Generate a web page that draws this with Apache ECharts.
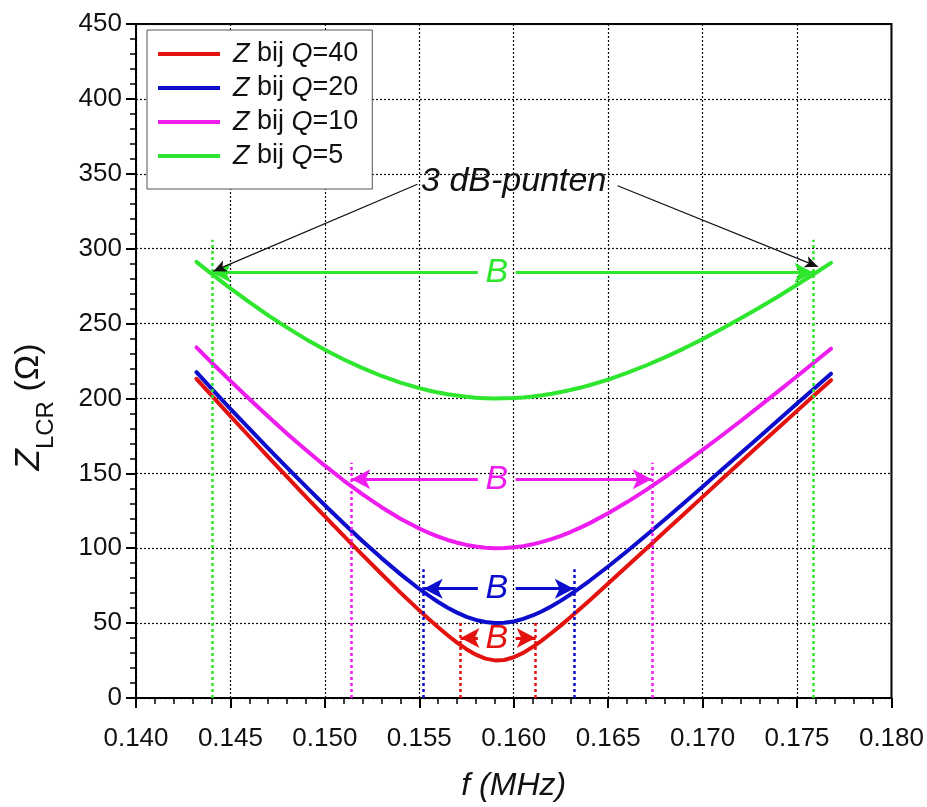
<!DOCTYPE html>
<html>
<head>
<meta charset="utf-8">
<script src="https://cdn.jsdelivr.net/npm/echarts@6/dist/echarts.min.js"></script>
<style>
  html, body { margin: 0; padding: 0; background: #fff; }
  #chart { width: 927px; height: 807px; }
</style>
</head>
<body>
<div id="chart"></div>
<script>
// frequency in MHz
const freq = [0.1432, 0.144, 0.145, 0.146, 0.147, 0.148, 0.149, 0.150, 0.151, 0.152, 0.153, 0.154, 0.155,
  0.1555, 0.156, 0.1565, 0.157, 0.1575, 0.158, 0.1585, 0.159, 0.1595, 0.160, 0.1605, 0.161, 0.1615,
  0.162, 0.1625, 0.163, 0.1635, 0.164, 0.165, 0.166, 0.167, 0.168, 0.169, 0.170, 0.171, 0.172, 0.173,
  0.174, 0.175, 0.176, 0.1768]

// Z (ohm) per curve
const zQ40 = [213.1, 202.0, 188.2, 174.6, 161.0, 147.6, 134.3, 121.2, 108.2, 95.4, 82.8, 70.4, 58.5,
  52.8, 47.2, 41.9, 37.0, 32.6, 28.9, 26.3, 25.1, 25.4, 27.2, 30.1, 34.0, 38.5,
  43.4, 48.5, 53.9, 59.4, 65.0, 76.4, 87.9, 99.5, 111.1, 122.7, 134.3, 145.9, 157.4, 168.9,
  180.3, 191.7, 203.1, 212.2]
const zQ20 = [217.5, 206.6, 193.1, 179.9, 166.7, 153.8, 141.1, 128.7, 116.5, 104.7, 93.4, 82.7, 72.8,
  68.3, 64.1, 60.3, 57.0, 54.2, 52.1, 50.7, 50.0, 50.2, 51.1, 52.8, 55.1, 57.9,
  61.3, 65.0, 69.1, 73.5, 78.1, 87.8, 98.0, 108.5, 119.2, 130.1, 141.1, 152.2, 163.2, 174.3,
  185.5, 196.6, 207.7, 216.5]
const zQ10 = [234.1, 224.0, 211.7, 199.6, 187.9, 176.5, 165.6, 155.1, 145.2, 135.9, 127.4, 119.7, 113.1,
  110.3, 107.7, 105.5, 103.7, 102.2, 101.1, 100.3, 100.0, 100.1, 100.6, 101.4, 102.6, 104.2,
  106.1, 108.3, 110.8, 113.6, 116.6, 123.3, 130.8, 138.8, 147.4, 156.3, 165.6, 175.1, 184.8, 194.7,
  204.7, 214.8, 225.0, 233.2]
const zQ5 = [291.2, 283.2, 273.5, 264.3, 255.5, 247.3, 239.6, 232.5, 226.0, 220.2, 215.0, 210.6, 206.9,
  205.3, 204.0, 202.8, 201.9, 201.1, 200.5, 200.2, 200.0, 200.1, 200.3, 200.7, 201.3, 202.1,
  203.1, 204.3, 205.6, 207.1, 208.8, 212.6, 217.0, 222.0, 227.4, 233.3, 239.6, 246.3, 253.3, 260.6,
  268.1, 275.9, 283.9, 290.5]

const seriesNames = ['Z bij Q=40', 'Z bij Q=20', 'Z bij Q=10', 'Z bij Q=5']
const qValues = ['40', '20', '10', '5']
const colors = ['#e3120f', '#0c0ccc', '#ee1cee', '#2ee62e']

// 3 dB points per curve (same order as above)
const bandLow = [0.15718, 0.15523, 0.15140, 0.14403]
const bandHigh = [0.16116, 0.16318, 0.16731, 0.17587]
const guideTop = [51, 86, 157, 306]
const arrowLevel = [40, 73, 146, 284]
const gapFrom = 0.1581
const gapTo = 0.1601
const bLabelX = 0.1591

// "3 dB-punten" annotation
const noteText = '3 dB-punten'
const notePos = [0.1600, 345]
const noteArrows = [
  [[0.1549, 343], [0.1441, 285]],
  [[0.1655, 342], [0.1761, 288]]
]

const xTicks = { min: 0.14, max: 0.18, step: 0.005 }
const yTicks = { min: 0, max: 450, step: 50 }

const FONT = '"Liberation Sans", Arial, sans-serif'

const toPairs = (ys) => freq.map((f, i) => [f, ys[i]])

const solid = (c, w) => ({ color: c, width: w, type: 'solid' })

const bandMarkLines = (k) => {
  const c = colors[k]
  const dot = { color: c, width: 2.5, type: [3, 3] }
  const arrowEnd = { symbol: 'arrow', symbolSize: [15, 19] }
  return [
    [{ coord: [bandLow[k], 0], lineStyle: dot }, { coord: [bandLow[k], guideTop[k]], lineStyle: dot }],
    [{ coord: [bandHigh[k], 0], lineStyle: dot }, { coord: [bandHigh[k], guideTop[k]], lineStyle: dot }],
    [{ coord: [gapFrom, arrowLevel[k]], symbol: 'none', lineStyle: solid(c, 3) },
      Object.assign({ coord: [bandLow[k], arrowLevel[k]], lineStyle: solid(c, 3) }, arrowEnd)],
    [{ coord: [gapTo, arrowLevel[k]], symbol: 'none', lineStyle: solid(c, 3) },
      Object.assign({ coord: [bandHigh[k], arrowLevel[k]], lineStyle: solid(c, 3) }, arrowEnd)]
  ]
}

const allZ = [zQ40, zQ20, zQ10, zQ5]

const series = allZ.map((zs, k) => {
  const lines = bandMarkLines(k)
  const points = [{
    coord: [bLabelX, arrowLevel[k]],
    label: { show: true, formatter: 'B', color: colors[k], fontSize: 34, fontStyle: 'italic', fontFamily: FONT, position: 'inside' }
  }]
  if (k === 3) {
    noteArrows.forEach(a => {
      lines.push([
        { coord: a[0], symbol: 'none', lineStyle: solid('#111', 1.2) },
        { coord: a[1], symbol: 'arrow', symbolSize: [9, 13], lineStyle: solid('#111', 1.2) }
      ])
    })
    points.push({
      coord: notePos,
      label: { show: true, formatter: noteText, color: '#111', fontSize: 34, fontStyle: 'italic', fontFamily: FONT, position: 'inside' }
    })
  }
  return {
    name: seriesNames[k],
    type: 'line',
    data: toPairs(zs),
    showSymbol: false,
    symbol: 'none',
    smooth: false,
    lineStyle: { color: colors[k], width: 4, join: 'round', cap: 'round' },
    itemStyle: { color: colors[k] },
    z: 3,
    markLine: {
      silent: true,
      animation: false,
      symbol: ['none', 'none'],
      label: { show: false },
      emphasis: { disabled: true },
      data: lines
    },
    markPoint: {
      silent: true,
      animation: false,
      symbol: 'circle',
      symbolSize: 1,
      itemStyle: { color: 'rgba(0,0,0,0)' },
      data: points
    }
  }
})

const chart = echarts.init(document.getElementById('chart'), null, { renderer: 'canvas' })

chart.setOption({
  animation: false,
  backgroundColor: '#fff',
  grid: {
    left: 136, right: 32, top: 24, bottom: 100,
    show: true, borderColor: '#000', borderWidth: 2, backgroundColor: 'transparent'
  },
  legend: {
    orient: 'vertical',
    left: 147,
    top: 30,
    padding: [10, 14, 19, 11],
    itemGap: 6,
    itemWidth: 62,
    itemHeight: 4,
    icon: 'rect',
    backgroundColor: '#fff',
    borderColor: '#555',
    borderWidth: 1,
    data: seriesNames,
    formatter: (name) => '{i|Z} bij {i|Q}=' + qValues[seriesNames.indexOf(name)],
    textStyle: {
      color: '#111', fontSize: 27, fontFamily: FONT, lineHeight: 28, padding: [0, 0, 0, 8],
      rich: {
        i: { fontStyle: 'italic', fontSize: 27, fontFamily: FONT, color: '#111', lineHeight: 28 }
      }
    }
  },
  xAxis: {
    type: 'value',
    min: xTicks.min,
    max: xTicks.max,
    interval: xTicks.step,
    name: 'f (MHz)',
    nameLocation: 'middle',
    nameGap: 72,
    nameTextStyle: { fontSize: 32, fontStyle: 'italic', fontFamily: FONT, color: '#111' },
    axisLine: { onZero: false, lineStyle: { color: '#000', width: 2 } },
    axisTick: { length: 10, lineStyle: { color: '#000', width: 2 } },
    minorTick: { show: true, splitNumber: 5, length: 6, lineStyle: { color: '#000', width: 1.5 } },
    axisLabel: {
      margin: 28, fontSize: 26, fontFamily: FONT, color: '#111',
      formatter: (v) => v.toFixed(3)
    },
    splitLine: { show: true, lineStyle: { color: '#111', width: 1.2, type: [2, 2] } }
  },
  yAxis: {
    type: 'value',
    min: yTicks.min,
    max: yTicks.max,
    interval: yTicks.step,
    name: '{i|Z}{s|LCR} (Ω)',
    nameLocation: 'middle',
    nameRotate: 90,
    nameGap: 88,
    nameTextStyle: {
      fontSize: 34, fontFamily: FONT, color: '#111', padding: [0, 92, 0, 0],
      rich: {
        i: { fontStyle: 'italic', fontSize: 35, fontFamily: FONT, color: '#111', lineHeight: 38 },
        s: { fontSize: 24, fontFamily: FONT, color: '#111', verticalAlign: 'bottom', lineHeight: 38, padding: [0, 0, -10, 0] }
      }
    },
    axisLine: { onZero: false, lineStyle: { color: '#000', width: 2 } },
    axisTick: { length: 10, lineStyle: { color: '#000', width: 2 } },
    minorTick: { show: true, splitNumber: 5, length: 6, lineStyle: { color: '#000', width: 1.5 } },
    axisLabel: { margin: 14, fontSize: 26, fontFamily: FONT, color: '#111' },
    splitLine: { show: true, lineStyle: { color: '#111', width: 1.2, type: [2, 2] } }
  },
  series: series
})
</script>
</body>
</html>
